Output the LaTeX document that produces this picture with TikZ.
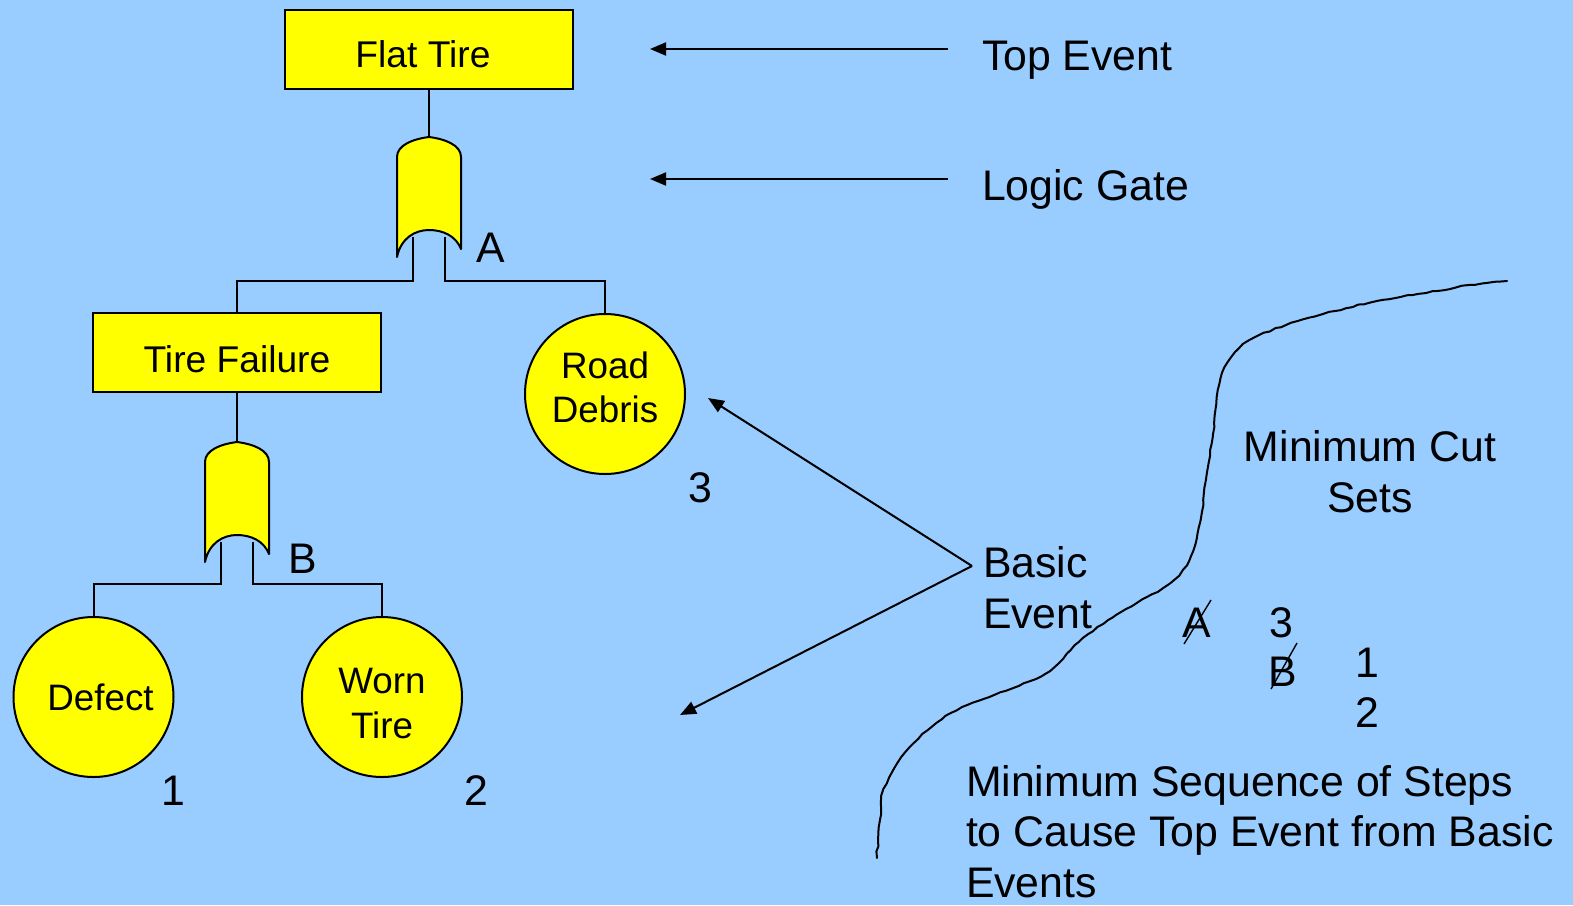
\documentclass[tikz,border=0pt]{standalone}
\usepackage{fontspec}
\setmainfont{Liberation Sans}
\usetikzlibrary{arrows.meta,calc,decorations.pathmorphing}
\definecolor{bg}{HTML}{99CCFF}
\definecolor{ev}{HTML}{FFFF00}
\newcommand\fgate[2]{%
  \begin{scope}[shift={#2}]
    \draw[gate] (-32,120) -- (-32,20) .. controls (-32,8) and (-16,2) .. (0,0)
      .. controls (16,2) and (32,8) .. (32,20) -- (32,112)
      .. controls (27,99) and (14,93) .. (0,93)
      .. controls (-14,93) and (-28,101) .. (-32,120) -- cycle;
    \coordinate (#1-top) at (0,0);
  \end{scope}}
\newcommand\shiftv[2]{\raisebox{#1}[\height][\depth]{#2}}
\newcommand\twolines[3]{\shiftv{#1}{\begin{tabular}{@{}c@{}}#2\\#3\end{tabular}}}
\begin{document}
\begin{tikzpicture}[x=0.5pt,y=-0.5pt,line width=1pt,
  box/.style={draw,fill=ev,rectangle,inner sep=0pt,font=\fontsize{18.6}{22.5}\selectfont},
  basicev/.style={draw,fill=ev,circle,inner sep=0pt,minimum size=80pt,align=center,font=\fontsize{18.4}{22.4}\selectfont},
  big/.style={inner sep=0pt,font=\fontsize{21.4}{25.4}\selectfont},
  arr/.style={-{Triangle[length=8pt,width=6.5pt]}},
  gate/.style={draw,fill=ev,line join=round},
  slash/.style={line width=0.7pt}]
\fill[bg] (0,0) rectangle (1573,905);
\useasboundingbox (0,0) rectangle (1573,905);

% events
\node[box,minimum width=144pt,minimum height=39.5pt] (ft) at (429,49.5) {\shiftv{-2.5pt}{Flat Tire}\kern6pt};
\node[box,minimum width=144pt,minimum height=39.5pt] (tf) at (237,352.5) {\shiftv{-3.5pt}{Tire Failure}};
\node[basicev] (rd) at (605,394) {\twolines{1.2pt}{Road}{Debris}};
\node[basicev] (df) at (93.5,697) {\kern7pt Defect};
\node[basicev] (wt) at (382,697) {\twolines{-5pt}{Worn}{Tire}};

\coordinate (gApos) at (429,137);
\coordinate (gBpos) at (237,442);
\coordinate (jA) at (0,281);
\coordinate (jB) at (0,584);

% connectors (under the gates)
\draw (gApos) ++(-16,100) coordinate (gA-l) |- (tf.north |- jA) -- (tf.north);
\draw (gApos) ++(16,100) coordinate (gA-r) |- (rd.north |- jA) -- (rd.north);
\draw (gBpos) ++(-16,100) coordinate (gB-l) |- (df.north |- jB) -- (df.north);
\draw (gBpos) ++(16,100) coordinate (gB-r) |- (wt.north |- jB) -- (wt.north);
\draw (ft.south) -- (gApos);
\draw (tf.south) -- (gBpos);

% gates
\fgate{gA}{(gApos)}
\fgate{gB}{(gBpos)}

% gate and event labels
\node[big] (lA) at (491,248) {A};
\node[big] (lB) at (303,559) {B};
\node[big] (n3) at (700,488) {3};
\node[big] (n1) at (173,791) {1};
\node[big] (n2) at (476,791) {2};

% right-hand annotations
\node[big,anchor=base west] (te) at (981,70.5) {Top Event};
\node[big,anchor=base west] (lg) at (981,200) {Logic Gate};
\coordinate (teS) at (948,49);
\coordinate (teE) at (650,49);
\coordinate (lgS) at (948,179);
\coordinate (lgE) at (650,179);
\draw[arr] (teS) -- (teE);
\draw[arr] (lgS) -- (lgE);

\node[big,anchor=west,align=left] (be) at (982,587.5) {Basic\\Event};
\coordinate (bp) at (972,566);
\coordinate (bpU) at (708,398);
\coordinate (bpD) at (680,715);
\draw[arr] (bp) -- (bpU);
\draw[arr] (bp) -- (bpD);

\node[big,align=center] (mcs) at (1370,471.5) {Minimum Cut\\Sets};

\node[big] (xa) at (1197,623) {A};
\draw[slash] ($(xa.center)+(-13,21)$) -- ($(xa.center)+(14,-23)$);
\node[big] (s3) at (1281,623) {3};
\node[big] (xb) at (1283,672) {B};
\draw[slash] ($(xb.center)+(-12,17)$) -- ($(xb.center)+(14,-29)$);
\node[big] (s1) at (1367,663) {1};
\node[big] (s2) at (1367,713) {2};

\node[big,anchor=west,align=left] (ms) at (965,831.5)
  {Minimum Sequence of Steps\\to Cause Top Event from Basic\\Events};

% dividing hand-drawn line
\draw[line cap=round,line join=round,decorate,
  decoration={random steps,segment length=3pt,amplitude=0.35pt}]
  plot[smooth,tension=0.6] coordinates {
  (877,858) (880,820) (884,789) (910,747) (951,713) (1013,688) (1050,671)
  (1079,642) (1116,615) (1170,583) (1191,556) (1201,518) (1206,480)
  (1213,434) (1218,390) (1228,362) (1248,341) (1286,325) (1323,314)
  (1377,301) (1426,293) (1470,285) (1507,281)};
\end{tikzpicture}
\end{document}
